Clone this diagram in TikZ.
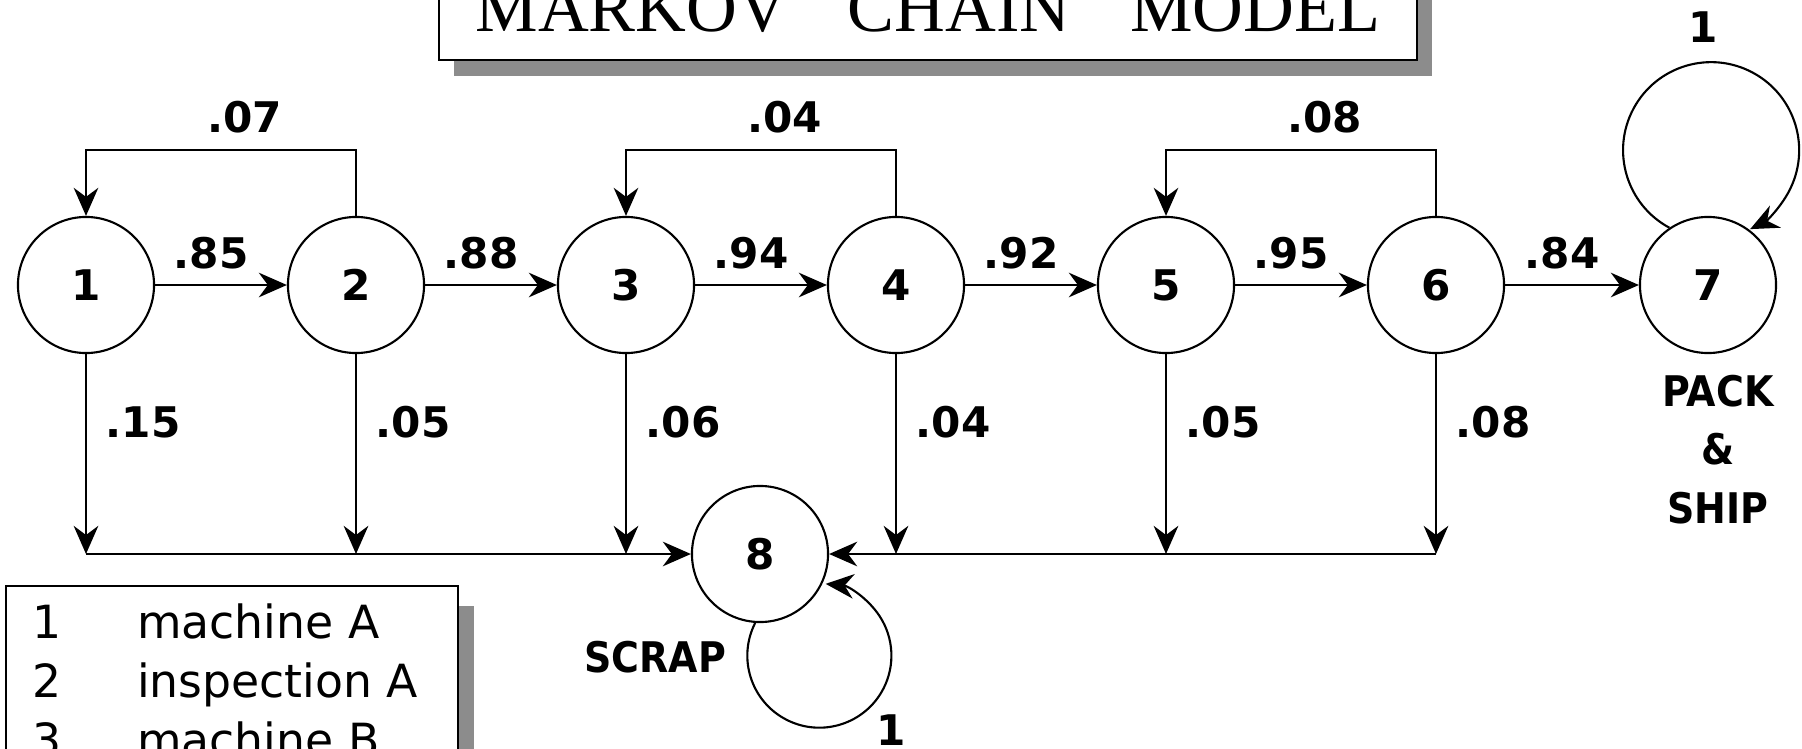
\documentclass[tikz,border=0pt]{standalone}
\usepackage{fontspec}
\usepackage{tikz}
\usetikzlibrary{arrows.meta,positioning,shadows}
\newfontfamily\dvfont{DejaVu Sans}
\newfontfamily\cndfont[FakeStretch=0.9]{DejaVu Sans}
\newfontfamily\ttlfont{Liberation Serif}

\begin{document}
\begin{tikzpicture}[
  x=0.01cm, y=0.01cm,
  >={Stealth[length=8pt, width=7pt]}, line width=0.6pt,
  state/.style={draw, circle, minimum size=1.36cm, inner sep=0pt,
                font=\dvfont\bfseries\fontsize{12}{14}\selectfont},
  prob/.style={font=\dvfont\bfseries\fontsize{12}{16.6}\selectfont, inner sep=0pt},
  word/.style={font=\cndfont\bfseries\fontsize{12}{16.6}\selectfont, inner sep=0pt},
  msg/.style={->},
  ttl/.style={draw, fill=white, minimum width=9.77cm, text depth=0pt, inner ysep=8pt,
              font=\ttlfont\fontsize{20}{24}\selectfont,
              general shadow={fill=black!45, opacity=1, shadow xshift=0.15cm, shadow yshift=-0.16cm}},
  legend/.style={draw, fill=white, minimum width=4.52cm, minimum height=2.2cm,
                 general shadow={fill=black!45, opacity=1, shadow xshift=0.16cm, shadow yshift=-0.2cm}},
  entry/.style={font=\dvfont\fontsize{13}{16}\selectfont, inner sep=0pt, anchor=base west},
]
  %% Frame (the picture is cut at its edges)
  \path[use as bounding box, clip] (0,0) rectangle (1802,-748);

  %% Title box
  \node[ttl, anchor=south] (title) at (928,-61)
    {MARKOV\hspace{0.85em}CHAIN\hspace{0.85em}MODEL};

  %% States
  \node[state] (n1) at (86,  -285) {1};
  \node[state] (n2) at (356, -285) {2};
  \node[state] (n3) at (626, -285) {3};
  \node[state] (n4) at (896, -285) {4};
  \node[state] (n5) at (1166,-285) {5};
  \node[state] (n6) at (1436,-285) {6};
  \node[state] (n7) at (1708,-285) {7};
  \node[state] (n8) at (760, -554) {8};

  %% Forward transitions
  \foreach \a/\b/\p in {1/2/.85, 2/3/.88, 3/4/.94, 4/5/.92, 5/6/.95, 6/7/.84}
    \draw[msg] (n\a) -- (n\b)
      node[prob, midway, xshift=-0.1cm, yshift=0.32cm]{\p};

  %% Rework loops back to the machine
  \foreach \a/\b/\p in {2/1/.07, 4/3/.04, 6/5/.08}
    \draw[msg] (n\a.north) -- ++(0,66) -| (n\b.north)
      node[prob, pos=0.206, yshift=0.33cm]{\p};

  %% Drops to the scrap line
  \foreach \a/\p in {1/.15, 2/.05, 3/.06, 4/.04, 5/.05, 6/.08}
    \draw[msg] (n\a) -- (n\a |- n8)
      node[prob, midway, xshift=0.57cm, yshift=0.32cm]{\p};

  %% Scrap line into state 8
  \draw[msg] (n1 |- n8) -- (n8);
  \draw[msg] (n6 |- n8) -- (n8);

  %% Absorbing states
  \draw[msg] (n7.124) arc[start angle=241.7, end angle=-63.7, radius=0.88cm];
  \node[prob] (p7) at (1703,-27) {1};
  \node[word, align=center, below=0.2cm of n7, xshift=0.1cm] (ship) {PACK\\\&\\SHIP};

  \draw[msg] (n8.266) arc[start angle=153, end angle=445, radius=0.72cm];
  \node[prob] (p8) at (891,-730) {1};
  \node[word] (scrap) at (655,-657) {SCRAP};

  %% Legend
  \node[legend, anchor=north west] (legend) at (5,-585) {};
  \foreach \n/\txt [count=\k from 0] in {1/machine A, 2/inspection A, 3/machine B}
    \node[entry] (leg\n) at (31,{-638-59*\k}) {\makebox[1.05cm][l]{\n}\txt};
\end{tikzpicture}
\end{document}
